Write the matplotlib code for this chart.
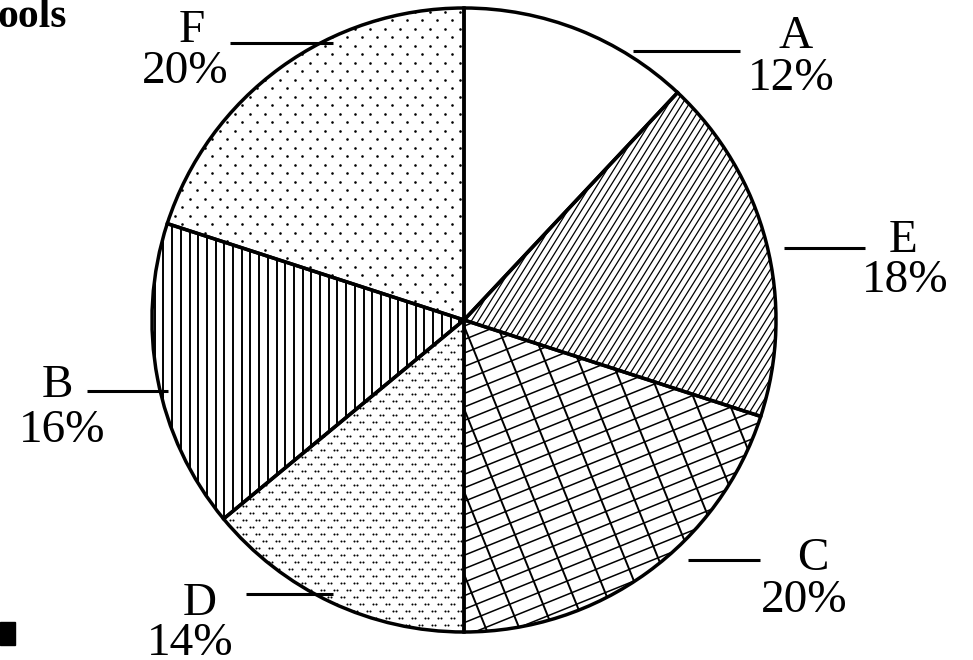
import numpy as np
import matplotlib.pyplot as plt
from matplotlib.collections import LineCollection
from matplotlib.patches import Rectangle

# slices clockwise from 12 o'clock
labels = ['A', 'E', 'C', 'D', 'B', 'F']
shares = [12, 18, 20, 14, 16, 20]
pct_text = ['12%', '18%', '20%', '14%', '16%', '20%']

plt.rcParams['font.family'] = ['Liberation Serif', 'DejaVu Serif']

W, H = 973, 660
fig = plt.figure(figsize=(W / 100, H / 100), dpi=100)
ax = fig.add_axes([0, 0, 1, 1])

cx, cy, r = 464, 340, 312

wedges, _ = ax.pie(shares, startangle=90, counterclock=False, center=(cx, cy),
                   radius=r, colors=['white'] * len(shares),
                   wedgeprops=dict(linewidth=0))


# textures clipped to each wedge
def line_fill(w, angle, gap, lw):
    t = np.deg2rad(angle)
    d = np.array([np.cos(t), np.sin(t)])
    n = np.array([-np.sin(t), np.cos(t)])
    segs = []
    for o in np.arange(-r * 1.1, r * 1.1, gap):
        p = np.array([cx, cy]) + n * o
        segs.append([p - d * r * 1.2, p + d * r * 1.2])
    lc = LineCollection(segs, colors='black', linewidths=lw, zorder=2)
    ax.add_collection(lc)
    lc.set_clip_path(w)


def dot_fill(w, dx, dy, size, pair=0.0):
    xs, ys = [], []
    for i, y in enumerate(np.arange(cy - r, cy + r, dy)):
        shift = dx / 2 if i % 2 else 0
        for x in np.arange(cx - r - dx + shift, cx + r + dx, dx):
            xs.append(x)
            ys.append(y)
            if pair:
                xs.append(x + pair)
                ys.append(y + 0.5)
    sc = ax.scatter(xs, ys, s=size, c='black', linewidths=0, zorder=2)
    sc.set_clip_path(w)


line_fill(wedges[1], 58, 5.8, 0.9)        # E
line_fill(wedges[2], -68, 31, 1.4)        # C
line_fill(wedges[2], 22, 12.5, 1.1)       # C
dot_fill(wedges[3], 13, 7, 2.2, pair=3)   # D
line_fill(wedges[4], 90, 8.7, 1.4)        # B
dot_fill(wedges[5], 15, 8.5, 3.5)         # F

ax.pie(shares, startangle=90, counterclock=False, center=(cx, cy), radius=r,
       wedgeprops=dict(fill=False, edgecolor='black', linewidth=2.5, zorder=3))

# label layout in pixel coords (y from top)
name_pos = [(796, 48), (903, 252), (813, 570), (200, 615), (57, 397), (192, 42)]
pct_pos = [(791, 90), (905, 292), (804, 612), (190, 655), (62, 442), (185, 83)]
leaders = [(633, 740, 51), (784, 865, 248), (688, 760, 560),
           (246, 333, 594), (87, 168, 391), (230, 333, 43)]

for lab, pt, (nx, ny), (px, py), (x0, x1, ly) in zip(labels, pct_text, name_pos,
                                                     pct_pos, leaders):
    ax.text(nx, H - ny, lab, fontsize=34, ha='center', va='baseline')
    ax.text(px, H - py, pt, fontsize=34, ha='center', va='baseline')
    ax.plot([x0, x1], [H - ly, H - ly], color='black', lw=2.2, zorder=3,
            solid_capstyle='butt')

# cropped title fragment and mark at the image edge
ax.text(67, H - 27, 'ools', fontsize=30, fontweight='bold', ha='right',
        va='baseline')
ax.add_patch(Rectangle((0, H - 645), 15, 23, color='black'))

ax.set_xlim(0, W)
ax.set_ylim(0, H)
ax.set_aspect('equal')
ax.axis('off')

fig.savefig('out.png', dpi=100)
